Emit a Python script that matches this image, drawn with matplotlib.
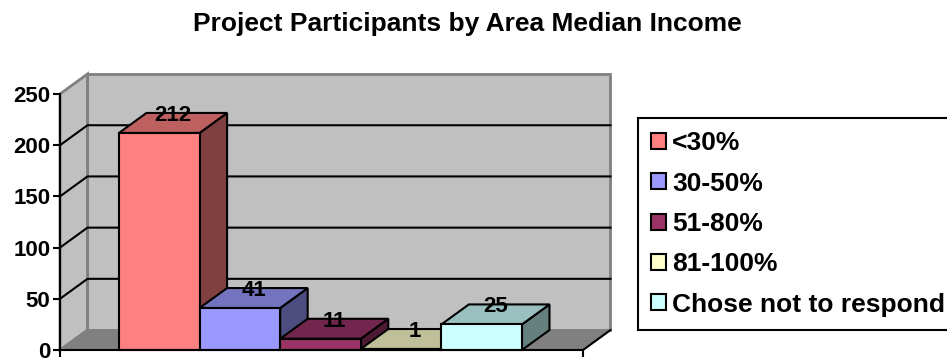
import matplotlib
matplotlib.use("Agg")
import matplotlib.pyplot as plt
from matplotlib.patches import Polygon, Rectangle, Patch
import numpy as np

plt.rcParams["font.family"] = "Liberation Sans"
plt.rcParams["font.weight"] = "bold"

# Participants by area median income band
categories = ["<30%", "30-50%", "51-80%", "81-100%", "Chose not to respond"]
participants = [212, 41, 11, 1, 25]
face_colors = ["#FF8080", "#9999FF", "#993366", "#FFFFCC", "#CCFFFF"]
y_ticks = [0, 50, 100, 150, 200, 250]


def shade(hex_color, k):
    r, g, b = matplotlib.colors.to_rgb(hex_color)
    return (r * k, g * k, b * k)


fig = plt.figure(figsize=(9.47, 3.58), dpi=100)
ax = fig.add_axes([60 / 947, 8 / 358, 523 / 947, 256 / 358])
x0, x1 = -1.232, 5.257
ymax = 250
ax.set_xlim(x0, x1)
ax.set_ylim(0, ymax)
ax.set_facecolor("none")

# oblique depth offset (x in bar widths, y in value units)
DX, DY = 0.341, 19.5
EDGE = dict(edgecolor="black", linewidth=1.5, joinstyle="miter", clip_on=False)

# walls and floor
wall_kw = dict(facecolor="#C0C0C0", edgecolor="#808080", linewidth=2, clip_on=False, zorder=0)
ax.add_patch(Polygon([(x0 + DX, DY), (x1 + DX, DY), (x1 + DX, ymax + DY), (x0 + DX, ymax + DY)], **wall_kw))
ax.add_patch(Polygon([(x0, 0), (x0 + DX, DY), (x0 + DX, ymax + DY), (x0, ymax)], **wall_kw))
ax.add_patch(Polygon([(x0, 0), (x1, 0), (x1 + DX, DY), (x0 + DX, DY)],
                     facecolor="#808080", edgecolor="#808080", linewidth=1, clip_on=False, zorder=0.5))
ax.plot([x1, x1 + DX], [0, DY], color="black", lw=1.5, clip_on=False, zorder=0.6)

# gridlines across side wall and back wall
for v in y_ticks[1:-1]:
    ax.plot([x0, x0 + DX, x1 + DX], [v, v + DY, v + DY], color="black", lw=1.5,
            clip_on=False, zorder=0.7)

# 3-D columns, drawn left to right so each front face overlaps the previous side
for i, (v, c) in enumerate(zip(participants, face_colors)):
    xl, xr = i - 0.5, i + 0.5
    z = 1 + i
    ax.add_patch(Polygon([(xr, 0), (xr + DX, DY), (xr + DX, v + DY), (xr, v)],
                         facecolor=shade(c, 0.5), zorder=z, **EDGE))
    ax.add_patch(Polygon([(xl, v), (xr, v), (xr + DX, v + DY), (xl + DX, v + DY)],
                         facecolor=shade(c, 0.75), zorder=z, **EDGE))
    ax.add_patch(Rectangle((xl, 0), 1, v, facecolor=c, zorder=z, **EDGE))
    ax.annotate(str(v), (i + DX / 2, v + DY / 2), xytext=(0, 1.5), textcoords="offset points",
                ha="center", va="baseline", fontsize=16, fontweight="bold", zorder=20,
                annotation_clip=False)

# axes lines and ticks
for s in ["top", "right"]:
    ax.spines[s].set_visible(False)
for s in ["left", "bottom"]:
    ax.spines[s].set_linewidth(1.5)
    ax.spines[s].set_zorder(15)
ax.set_yticks(y_ticks)
ax.set_xticks([x0, x1])
ax.set_xticklabels(["", ""])
ax.tick_params(axis="both", direction="out", length=5, width=1.5, labelsize=16, pad=2)

fig.text(467.5 / 947, 1 - 24 / 358, "Project Participants by Area Median Income",
         ha="center", va="center", fontsize=19, fontweight="bold")

handles = [Patch(facecolor=c, edgecolor="black", linewidth=1.5) for c in face_colors]
leg = fig.legend(handles, categories, loc="upper left",
                 bbox_to_anchor=(638 / 947, 1 - 118 / 358),
                 prop={"weight": "bold", "size": 19}, frameon=True, fancybox=False,
                 edgecolor="black", framealpha=1, borderaxespad=0, handlelength=0.55,
                 handleheight=0.55, handletextpad=0.25, labelspacing=0.62, borderpad=0.5)
leg.get_frame().set_linewidth(1.5)

fig.savefig("out.png", dpi=100)
